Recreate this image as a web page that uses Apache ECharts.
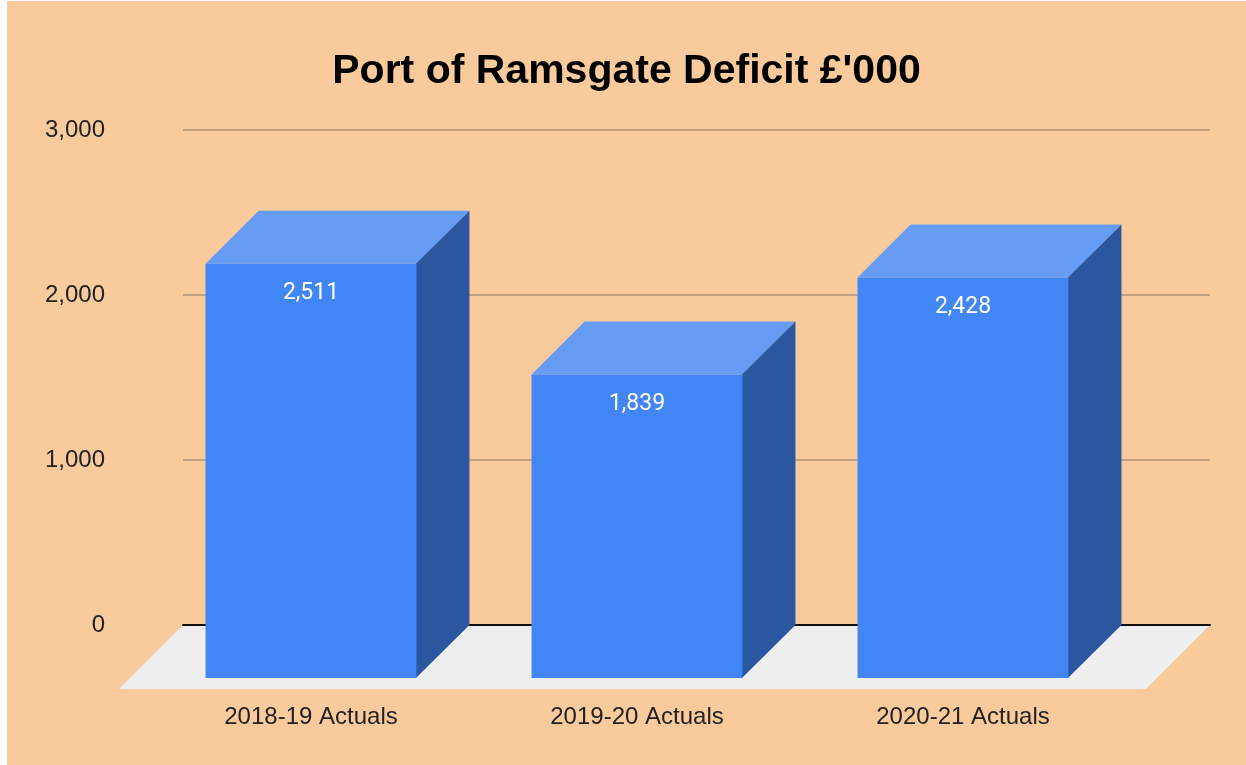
<!DOCTYPE html>
<html>
<head>
<meta charset="utf-8">
<title>Port of Ramsgate Deficit</title>
<script src="https://cdn.jsdelivr.net/npm/echarts@6/dist/echarts.min.js"></script>
<style>
    html, body {
        margin: 0;
        padding: 0;
        background: #ffffff;
    }
    #main {
        position: absolute;
        left: 7px;
        top: 1px;
        width: 1239px;
        height: 764px;
    }
</style>
</head>
<body>
<div id="main"></div>
<script>
// 数据
const categories = ['2018-19 Actuals', '2019-20 Actuals', '2020-21 Actuals'];
const deficit = [2511, 1839, 2428];
const yMin = 0;
const yMax = 3000;
const yStep = 1000;

// 3D效果参数
const DEPTH = 53;        // 柱子的纵深
const FLOOR_DEPTH = 64;  // 地板的纵深
const BAR_RATIO = 0.647;

const chart = echarts.init(document.getElementById('main'));

// 柱子: 正面 + 顶面 + 侧面
const renderBar = (params, api) => {
    const base = api.coord([api.value(0), 0]);
    const top = api.coord([api.value(0), api.value(1)]);
    const w = api.size([1, 0])[0] * BAR_RATIO;
    const x0 = base[0] - w / 2;
    const x1 = base[0] + w / 2;
    const yb = base[1] + DEPTH;
    const yt = top[1] + DEPTH;
    return {
        type: 'group',
        children: [
            {
                type: 'polygon',
                shape: { points: [[x0, yt], [x0 + DEPTH, yt - DEPTH], [x1 + DEPTH, yt - DEPTH], [x1, yt]] },
                style: { fill: '#679cf4' }
            },
            {
                type: 'polygon',
                shape: { points: [[x1 - 0.5, yt], [x1 + DEPTH, yt - DEPTH], [x1 + DEPTH, yb - DEPTH], [x1 - 0.5, yb]] },
                style: { fill: '#2b56a0' }
            },
            {
                type: 'rect',
                shape: { x: x0, y: yt, width: w, height: yb - yt },
                style: { fill: '#4285f4' }
            },
            {
                type: 'text',
                x: base[0],
                y: yt + 30,
                style: {
                    text: api.value(1).toLocaleString('en-US'),
                    fill: '#ffffff',
                    font: '23px Roboto',
                    align: 'center',
                    verticalAlign: 'middle'
                }
            }
        ]
    };
};

// 地板
const renderFloor = (params, api) => {
    const cs = params.coordSys;
    const y0 = api.coord([0, 0])[1];
    return {
        type: 'polygon',
        shape: {
            points: [
                [cs.x, y0],
                [cs.x + cs.width, y0],
                [cs.x + cs.width - FLOOR_DEPTH, y0 + FLOOR_DEPTH],
                [cs.x - FLOOR_DEPTH, y0 + FLOOR_DEPTH]
            ]
        },
        style: { fill: '#eeeeee' }
    };
};

const option = {
    animation: false,
    backgroundColor: '#f9cb9c',
    title: {
        text: "Port of Ramsgate Deficit £'000",
        left: 'center',
        top: 45,
        textStyle: {
            fontFamily: 'Liberation Sans, Arial, sans-serif',
            fontSize: 41,
            fontWeight: 'bold',
            color: '#000000'
        }
    },
    grid: [
        { left: 176, right: 36, top: 129, bottom: 140 },
        { left: 141, right: 120, top: 129, bottom: 140 }
    ],
    xAxis: [
        {
            type: 'category',
            gridIndex: 0,
            data: categories,
            z: 3,
            axisLine: { show: true, lineStyle: { color: '#111111', width: 2 } },
            axisTick: { show: false },
            axisLabel: { show: false }
        },
        {
            type: 'category',
            gridIndex: 1,
            data: categories,
            axisLine: { show: false },
            axisTick: { show: false },
            axisLabel: {
                interval: 0,
                margin: 80,
                fontFamily: 'Liberation Sans, Arial, sans-serif',
                fontSize: 24,
                color: '#222222'
            }
        }
    ],
    yAxis: [
        {
            type: 'value',
            gridIndex: 0,
            min: yMin,
            max: yMax,
            interval: yStep,
            axisLine: { show: false },
            axisTick: { show: false },
            axisLabel: {
                margin: 78,
                fontFamily: 'Liberation Sans, Arial, sans-serif',
                fontSize: 24,
                color: '#222222',
                formatter: (v) => v.toLocaleString('en-US')
            },
            splitLine: { lineStyle: { color: '#c29f7d', width: 2 } }
        },
        {
            type: 'value',
            gridIndex: 1,
            min: yMin,
            max: yMax,
            interval: yStep,
            show: false
        }
    ],
    series: [
        {
            type: 'custom',
            name: 'floor',
            xAxisIndex: 0,
            yAxisIndex: 0,
            z: 1,
            silent: true,
            renderItem: renderFloor,
            data: [[0]]
        },
        {
            type: 'custom',
            name: 'Deficit',
            xAxisIndex: 1,
            yAxisIndex: 1,
            z: 5,
            renderItem: renderBar,
            data: deficit.map((v, i) => [i, v])
        }
    ]
};

chart.setOption(option);

window.addEventListener('resize', () => {
    chart.resize();
});
</script>
</body>
</html>
